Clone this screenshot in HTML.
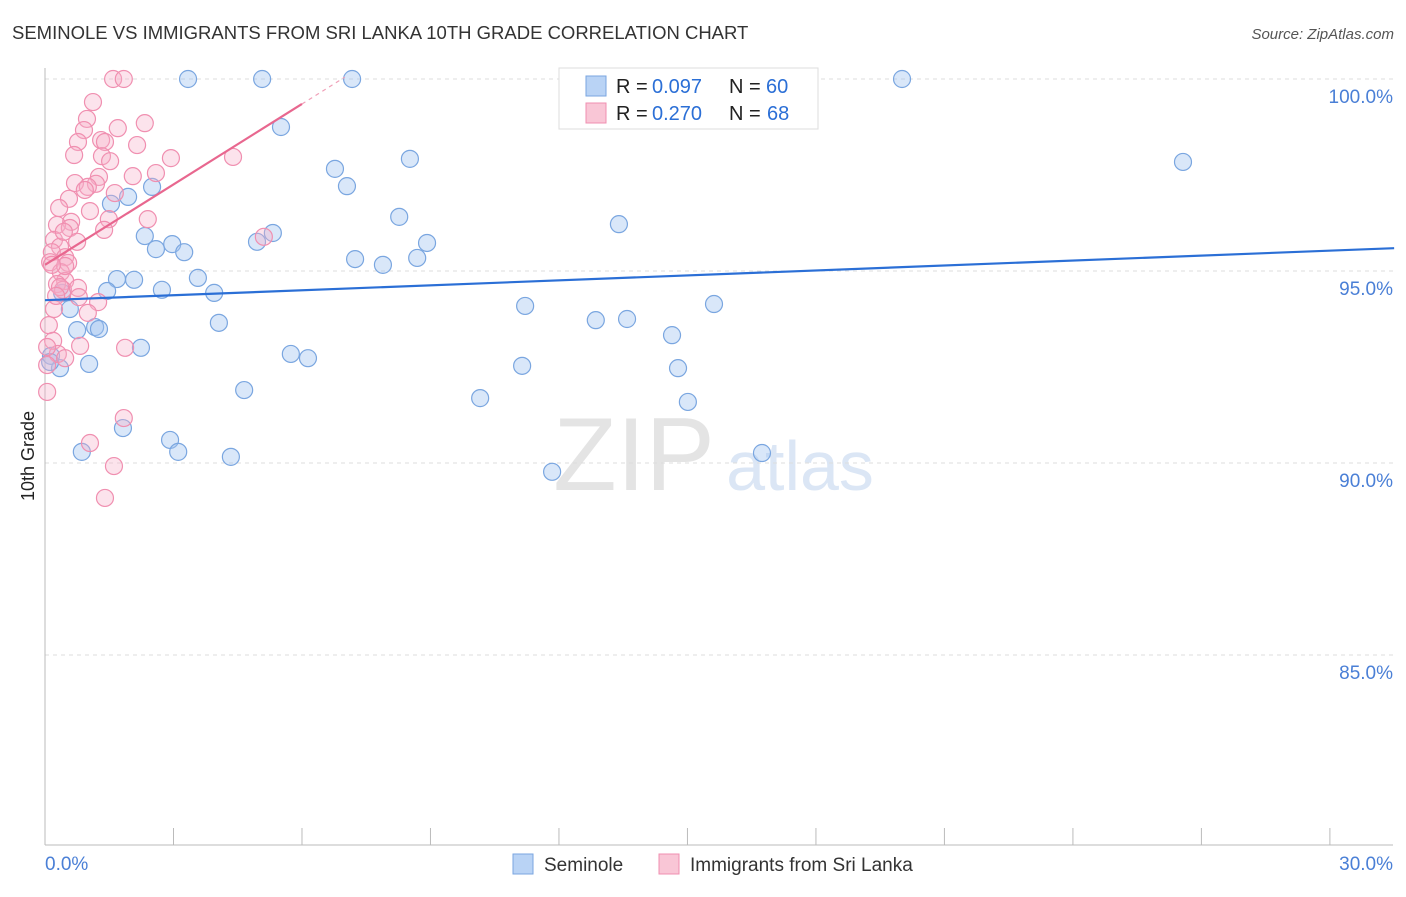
<!DOCTYPE html>
<html><head><meta charset="utf-8"><style>
body{margin:0;background:#fff;font-family:"Liberation Sans",sans-serif;}
svg text{font-family:"Liberation Sans",sans-serif;}
</style></head><body>
<svg id="chart" width="1406" height="892">
<text x="12" y="39" font-size="18.5" fill="#333">SEMINOLE VS IMMIGRANTS FROM SRI LANKA 10TH GRADE CORRELATION CHART</text>
<text x="1394" y="39" font-size="15" fill="#555" font-style="italic" text-anchor="end">Source: ZipAtlas.com</text>
<text x="634" y="490" font-size="104" fill="#e4e4e4" font-family="Liberation Serif" text-anchor="middle">ZIP</text>
<text x="800" y="490" font-size="70" fill="#dbe6f5" text-anchor="middle">atlas</text>
<text transform="translate(34,456) rotate(-90)" font-size="18" fill="#222" text-anchor="middle">10th Grade</text>
<g id="grid"></g><g id="marks"></g>
<g>
<rect x="559" y="68" width="259" height="61" fill="#fff" stroke="#ddd"/>
<rect x="586" y="76" width="20" height="20" fill="#b9d3f5" stroke="#7aa6e0"/>
<rect x="586" y="103" width="20" height="20" fill="#f9c6d6" stroke="#f08fb0"/>
<text x="616" y="93" font-size="20" fill="#222">R =</text>
<text x="652" y="93" font-size="20" fill="#2b6fd6">0.097</text>
<text x="729" y="93" font-size="20" fill="#222">N =</text>
<text x="766" y="93" font-size="20" fill="#2b6fd6">60</text>
<text x="616" y="120" font-size="20" fill="#222">R =</text>
<text x="652" y="120" font-size="20" fill="#2b6fd6">0.270</text>
<text x="729" y="120" font-size="20" fill="#222">N =</text>
<text x="767" y="120" font-size="20" fill="#2b6fd6">68</text>
</g>
<g>
<rect x="513" y="854" width="20" height="20" fill="#b9d3f5" stroke="#7aa6e0"/>
<text x="544" y="871" font-size="19" fill="#333">Seminole</text>
<rect x="659" y="854" width="20" height="20" fill="#f9c6d6" stroke="#f08fb0"/>
<text x="690" y="871" font-size="19" fill="#333">Immigrants from Sri Lanka</text>
</g>
</svg>
<script>
const yTicks=[100,95,90,85];
const yTickLabels=["100.0%","95.0%","90.0%","85.0%"];
const seminoleX=[3.34,5.07,7.17,20.01,5.51,26.57,6.77,8.52,7.05,2.50,1.94,1.54,8.27,13.40,5.32,2.33,4.95,2.97,2.59,3.25,8.92,7.24,7.89,8.69,1.68,2.08,3.57,1.45,2.73,3.95,0.40,11.21,15.62,0.58,12.86,13.59,4.06,0.75,1.17,1.26,14.64,2.24,5.74,6.14,0.14,1.03,0.35,11.14,14.78,4.65,10.16,15.01,1.82,2.92,0.86,3.11,4.34,11.84,16.74,0.12];
const seminoleY=[100,100,100,100,98.75,97.84,97.66,97.92,97.21,97.19,96.93,96.75,96.41,96.22,95.99,95.91,95.76,95.70,95.57,95.49,95.73,95.31,95.16,95.34,94.79,94.77,94.82,94.48,94.51,94.43,94.43,94.09,94.14,94.01,93.72,93.75,93.65,93.46,93.54,93.49,93.33,93.0,92.84,92.73,92.79,92.58,92.47,92.53,92.47,91.90,91.69,91.59,90.91,90.60,90.29,90.29,90.16,89.77,90.26,92.63];
const sriLankaX=[1.59,1.84,1.12,0.98,2.33,0.91,1.31,0.77,1.40,2.15,0.68,1.33,1.52,2.94,4.39,2.59,2.05,1.26,0.70,1.19,1.00,0.93,0.56,0.33,1.05,2.40,1.49,0.61,0.28,0.58,1.38,0.21,0.75,5.11,0.35,0.16,0.47,0.12,0.54,0.37,0.47,0.28,0.42,0.77,0.79,1.24,0.21,1.00,0.09,0.19,0.82,1.87,0.30,0.47,0.05,0.05,0.05,1.84,1.05,1.61,1.40,0.35,0.44,1.63,1.70,0.47,0.16,0.26];
const sriLankaY=[100,100,99.40,98.96,98.85,98.67,98.41,98.36,98.36,98.28,98.02,97.99,97.86,97.94,97.97,97.55,97.47,97.45,97.29,97.27,97.19,97.11,96.88,96.64,96.56,96.35,96.35,96.28,96.20,96.12,96.07,95.81,95.76,95.89,95.63,95.49,95.36,95.23,95.21,94.97,94.74,94.66,94.51,94.56,94.32,94.19,94.01,93.91,93.59,93.18,93.05,93.0,92.84,92.73,93.02,92.55,91.85,91.17,90.52,89.92,89.09,94.58,96.02,97.03,98.72,95.13,95.16,94.35];
const seminoleTrend=[94.24,95.53];
const sriLankaTrend=[95.16,99.35];
const NS="http://www.w3.org/2000/svg";
const X=v=>45+v*42.83, Y=v=>79+(100-v)*38.4;
function mk(t,a,p){const e=document.createElementNS(NS,t);for(const k in a)e.setAttribute(k,a[k]);p.appendChild(e);return e;}
const g=document.getElementById('grid'), m=document.getElementById('marks');
yTicks.forEach((t,i)=>{
 const l=mk('line',{x1:45,x2:1393,y1:Y(t),y2:Y(t),stroke:'#ddd','stroke-dasharray':'4,4'},g);
 
 
 const tx=mk('text',{x:1393,y:Y(t)+24,'font-size':19,fill:'#4a7fd6','text-anchor':'end'},g);
 tx.textContent=yTickLabels[i];
 
 
});
const ax=mk('line',{x1:45,x2:45,y1:68,y2:845,stroke:'#bbb'},g);


const bx=mk('line',{x1:45,x2:1393,y1:845,y2:845,stroke:'#bbb'},g);


for(let i=0;i<=10;i++){const t=mk('line',{x1:X(i*3),x2:X(i*3),y1:828,y2:845,stroke:'#bbb'},g);
 
 }
const xl0=mk('text',{x:45,y:870,'font-size':19,fill:'#4a7fd6'},g);xl0.textContent='0.0%';


const xl1=mk('text',{x:1393,y:870,'font-size':19,fill:'#4a7fd6','text-anchor':'end'},g);xl1.textContent='30.0%';


seminoleX.forEach((x,i)=>{const c=mk('circle',{cx:X(x),cy:Y(seminoleY[i]),r:8.5,fill:'rgba(160,196,240,0.4)',stroke:'#7aa6e0','stroke-width':1.2},m);
 
 });
sriLankaX.forEach((x,i)=>{const c=mk('circle',{cx:X(x),cy:Y(sriLankaY[i]),r:8.5,fill:'rgba(247,175,200,0.35)',stroke:'#f08fb0','stroke-width':1.2},m);
 
 });
const bl=mk('line',{x1:X(0),y1:Y(seminoleTrend[0]),x2:X(31.5),y2:Y(seminoleTrend[0]+(seminoleTrend[1]-seminoleTrend[0])*31.5/30),stroke:'#2b6fd6','stroke-width':2.2},m);


const s=(sriLankaTrend[1]-sriLankaTrend[0])/6;
const pl=mk('line',{x1:X(0),y1:Y(sriLankaTrend[0]),x2:X(6),y2:Y(sriLankaTrend[1]),stroke:'#e8678f','stroke-width':2.2},m);


const pd=mk('line',{x1:X(6),y1:Y(sriLankaTrend[1]),x2:X(7),y2:Y(sriLankaTrend[1]+s),stroke:'#f0a0b8','stroke-width':1.2,'stroke-dasharray':'4,4'},m);


</script>
</body></html>
